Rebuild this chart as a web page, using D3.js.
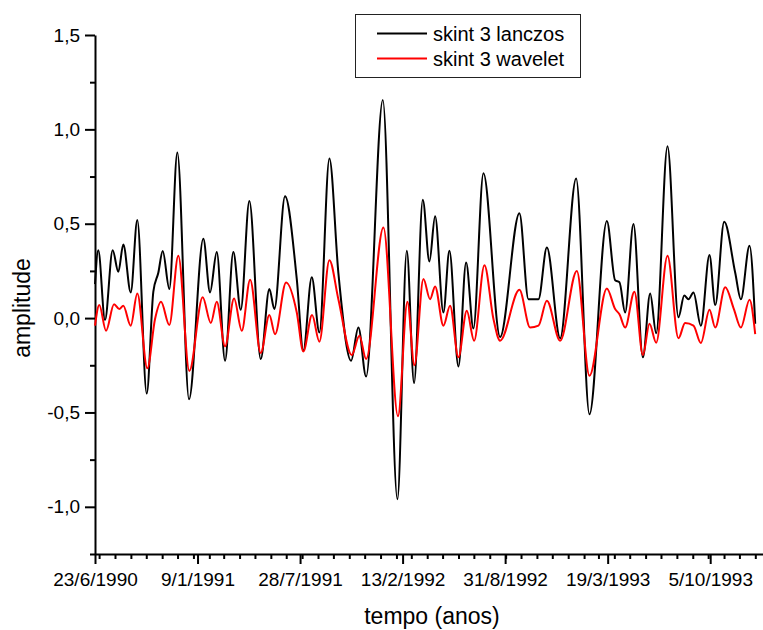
<!DOCTYPE html>
<html>
<head>
<meta charset="utf-8">
<script src="https://cdn.jsdelivr.net/npm/d3@7"></script>
<style>
  body { margin: 0; background: #fff; }
  text { font-family: "Liberation Sans", Arial, sans-serif; fill: #000; }
</style>
</head>
<body>
<div id="my_dataviz"></div>
<script>

// values: [days after 23/6/1990, amplitude]
var lanczos = [
  [0, 0.18], [6.4, 0.36], [19.5, -0.01], [34.5, 0.36], [45.5, 0.245], [55.2, 0.39],
  [69.7, 0.136], [82.5, 0.52], [100.9, -0.40], [113.8, 0.14], [123.5, 0.24], [132.1, 0.356],
  [145, 0.154], [160.6, 0.878], [183.4, -0.43], [211.3, 0.42], [224.4, 0.136], [237.5, 0.35],
  [253.7, -0.226], [269.8, 0.35], [284.3, 0.044], [301.1, 0.62], [323.3, -0.217], [340.1, 0.154],
  [349.9, 0.048], [370.7, 0.645], [393.6, 0.207], [406.4, -0.173], [422.8, 0.216], [437.7, -0.076],
  [457.2, 0.846], [474.7, 0.24], [499.5, -0.226], [513.8, -0.05], [528.8, -0.31], [561.4, 1.156],
  [589.9, -0.96], [608.2, 0.357], [622.4, -0.344], [639.4, 0.627], [652.3, 0.30], [663.4, 0.54],
  [679.6, 0.03], [691.3, 0.357], [708.9, -0.256], [723.9, 0.295], [738.1, -0.055], [757.7, 0.768],
  [790.2, -0.10], [827.9, 0.556], [845.4, 0.10], [865, 0.10], [881.4, 0.374], [907.3, -0.107],
  [938.5, 0.74], [964.5, -0.51], [998.4, 0.515], [1014.6, 0.2], [1023, 0.19], [1034.1, 0.03],
  [1050.3, 0.498], [1068.7, -0.208], [1082.9, 0.13], [1094.6, -0.08], [1116.7, 0.91], [1138.1, 0.004],
  [1149.3, 0.12], [1157.6, 0.10], [1167.4, 0.136], [1181.8, -0.04], [1198.6, 0.334], [1209.8, 0.069],
  [1227.3, 0.51], [1248.8, 0.24], [1259.9, 0.10], [1276.7, 0.383], [1287.8, -0.03]
];

var wavelet = [
  [0, -0.04], [8.4, 0.069], [21.5, -0.067], [37.1, 0.074], [47.4, 0.048], [55.2, 0.065],
  [69.7, -0.04], [82.5, 0.13], [102.1, -0.266], [117.1, -0.005], [128.8, 0.086], [145, -0.037],
  [162.5, 0.33], [184, -0.28], [210, 0.11], [225.9, -0.026], [237.5, 0.086], [253.7, -0.15],
  [271.3, 0.104], [286.3, -0.067], [302.6, 0.203], [323.3, -0.185], [340.1, 0.016], [351.2, -0.085],
  [372.7, 0.189], [393.6, 0.03], [406.4, -0.177], [423.4, 0.016], [437.7, -0.125], [457.2, 0.307],
  [474.7, 0.10], [500.8, -0.196], [515.7, -0.094], [528.8, -0.217], [562.6, 0.48], [591, -0.52],
  [609.4, 0.086], [623, -0.25], [640.6, 0.207], [653.6, 0.10], [663.4, 0.168], [679.6, -0.04],
  [692.6, 0.065], [708.9, -0.208], [725.2, 0.039], [739.5, -0.12], [759.6, 0.28], [777.2, -0.005],
  [790.2, -0.12], [827.9, 0.15], [848.7, -0.05], [865, -0.04], [881.4, 0.092], [907.3, -0.12],
  [939.8, 0.25], [964.5, -0.305], [998.4, 0.157], [1014.6, 0.048], [1023, 0.02], [1034.1, -0.05],
  [1052.2, 0.14], [1068.7, -0.196], [1081.6, -0.03], [1094.6, -0.13], [1116.7, 0.33], [1138.1, -0.107],
  [1151, -0.026], [1167.4, -0.04], [1181.8, -0.132], [1198.6, 0.044], [1209.8, -0.05], [1229.3, 0.163],
  [1246.2, 0.048], [1259.9, -0.05], [1276.7, 0.097], [1287.8, -0.085]
];

var seriesNames = ["skint 3 lanczos", "skint 3 wavelet"];
var seriesColors = ["#000000", "#ff0000"];

// tick labels
var xTickDays = [0, 200, 400, 600, 800, 1000, 1200];
var yTicks = [-1.0, -0.5, 0.0, 0.5, 1.0, 1.5];
var yMinorTicks = [-1.25, -0.75, -0.25, 0.25, 0.75, 1.25];

var startDate = new Date(1990, 5, 23);
var endDay = 1303;

var width = 763, height = 630;
var margin = {top: 35, right: 0, bottom: 76, left: 95};

var svg = d3.select("#my_dataviz")
  .append("svg")
    .attr("width", width)
    .attr("height", height);

function toDate(d) { return d3.timeDay.offset(startDate, Math.floor(d)) ; }
function dayDate(d) { return new Date(toDate(d).getTime() + (d - Math.floor(d)) * 86400000); }

var x = d3.scaleTime()
  .domain([startDate, toDate(endDay)])
  .range([margin.left, width]);

var y = d3.scaleLinear()
  .domain([-1.25, 1.5])
  .range([height - margin.bottom, margin.top]);

var fmt = d3.timeFormat("%-d/%-m/%Y");
var fmtY = function(v) { return d3.format(".1f")(v).replace(".", ",").replace("−", "-"); };

// X axis: major every 200 days, minor at every month start
var xAxisG = svg.append("g")
  .attr("transform", "translate(0," + y(-1.25) + ")");
xAxisG.call(d3.axisBottom(x)
    .tickValues(d3.timeMonth.range(startDate, toDate(endDay)))
    .tickSize(5).tickFormat(""));
xAxisG.call(g => g.select(".domain").remove());
var xMajor = svg.append("g")
  .attr("transform", "translate(0," + y(-1.25) + ")")
  .call(d3.axisBottom(x)
    .tickValues(xTickDays.map(toDate))
    .tickSize(10).tickPadding(9).tickSizeOuter(0)
    .tickFormat(fmt));
xMajor.selectAll("text").attr("font-size", 19).attr("font-family", "Liberation Sans, Arial, sans-serif");

// Y axis
var yAxisG = svg.append("g")
  .attr("transform", "translate(" + margin.left + ",0)")
  .call(d3.axisLeft(y).tickValues(yMinorTicks).tickSize(5).tickFormat(""));
yAxisG.select(".domain").remove();
var yMajor = svg.append("g")
  .attr("transform", "translate(" + margin.left + ",0)")
  .call(d3.axisLeft(y).tickValues(yTicks).tickSize(10).tickPadding(5).tickSizeOuter(0).tickFormat(fmtY));
yMajor.selectAll("text").attr("font-size", 19).attr("font-family", "Liberation Sans, Arial, sans-serif");

svg.selectAll(".domain, .tick line")
  .attr("stroke", "#000")
  .attr("stroke-width", 2);

// axis titles
svg.append("text")
  .attr("text-anchor", "middle")
  .attr("x", 432)
  .attr("y", 624)
  .attr("font-size", 23)
  .text("tempo (anos)");

svg.append("text")
  .attr("text-anchor", "middle")
  .attr("transform", "translate(30,308) rotate(-90)")
  .attr("font-size", 23)
  .text("amplitude");

// lines
var line = d3.line()
  .curve(d3.curveMonotoneX)
  .x(function(d) { return x(dayDate(d[0])); })
  .y(function(d) { return y(d[1]); });

var allSeries = [lanczos, wavelet];
svg.selectAll("path.serie")
  .data(allSeries)
  .enter()
  .append("path")
    .attr("class", "serie")
    .attr("fill", "none")
    .attr("stroke", function(d, i) { return seriesColors[i]; })
    .attr("stroke-width", 2)
    .attr("stroke-linejoin", "round")
    .attr("d", line);

// legend
var legend = svg.append("g");
legend.append("rect")
  .attr("x", 355.5).attr("y", 14.5)
  .attr("width", 225).attr("height", 63)
  .attr("fill", "#fff")
  .attr("stroke", "#222")
  .attr("stroke-width", 1);
seriesNames.forEach(function(name, i) {
  var ly = 33.5 + i * 25;
  legend.append("line")
    .attr("x1", 377).attr("x2", 427)
    .attr("y1", ly).attr("y2", ly)
    .attr("stroke", seriesColors[i])
    .attr("stroke-width", 2);
  legend.append("text")
    .attr("x", 433)
    .attr("y", ly + 7)
    .attr("font-size", 20)
    .text(name);
});

</script>
</body>
</html>
